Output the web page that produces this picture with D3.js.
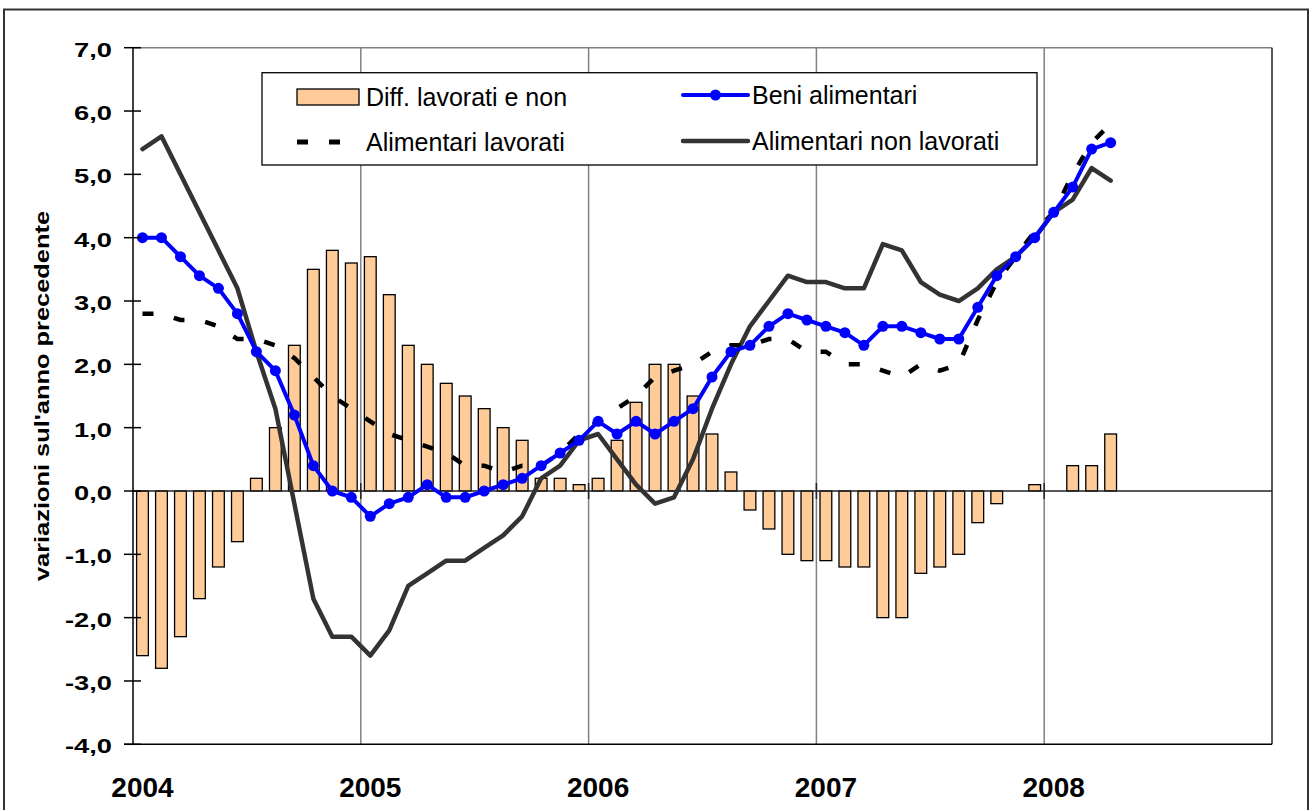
<!DOCTYPE html>
<html>
<head>
<meta charset="utf-8">
<script src="https://cdn.jsdelivr.net/npm/d3@7"></script>
<style>
  body { margin: 0; background: #fff; }
  svg { display: block; font-family: Arial, "Liberation Sans", sans-serif; }
</style>
</head>
<body>
<svg id="chart" width="1311" height="810"></svg>
<script>
const years = ["2004", "2005", "2006", "2007", "2008"];
const yTicks = [-4, -3, -2, -1, 0, 1, 2, 3, 4, 5, 6, 7];

// monthly values, Jan 2004 - Apr 2008
const diffLavNon = [
  -2.6, -2.8, -2.3, -1.7, -1.2, -0.8, 0.2, 1.0, 2.3, 3.5, 3.8, 3.6,
  3.7, 3.1, 2.3, 2.0, 1.7, 1.5, 1.3, 1.0, 0.8, 0.2, 0.2, 0.1,
  0.2, 0.8, 1.4, 2.0, 2.0, 1.5, 0.9, 0.3, -0.3, -0.6, -1.0, -1.1,
  -1.1, -1.2, -1.2, -2.0, -2.0, -1.3, -1.2, -1.0, -0.5, -0.2, 0.0, 0.1,
  0.0, 0.4, 0.4, 0.9
];
const beniAlimentari = [
  4.0, 4.0, 3.7, 3.4, 3.2, 2.8, 2.2, 1.9, 1.2, 0.4, 0.0, -0.1,
  -0.4, -0.2, -0.1, 0.1, -0.1, -0.1, 0.0, 0.1, 0.2, 0.4, 0.6, 0.8,
  1.1, 0.9, 1.1, 0.9, 1.1, 1.3, 1.8, 2.2, 2.3, 2.6, 2.8, 2.7,
  2.6, 2.5, 2.3, 2.6, 2.6, 2.5, 2.4, 2.4, 2.9, 3.4, 3.7, 4.0,
  4.4, 4.8, 5.4, 5.5
];
const alimLavorati = [
  2.8, 2.8, 2.7, 2.7, 2.6, 2.4, 2.4, 2.3, 2.1, 1.8, 1.5, 1.3,
  1.1, 0.9, 0.8, 0.7, 0.6, 0.4, 0.4, 0.3, 0.4, 0.4, 0.6, 0.9,
  1.1, 1.3, 1.5, 1.8, 1.9, 2.0, 2.2, 2.3, 2.3, 2.4, 2.4, 2.2,
  2.2, 2.0, 2.0, 1.9, 1.8, 2.0, 1.9, 2.0, 2.7, 3.3, 3.7, 4.1,
  4.4, 5.0, 5.5, 5.8
];
const alimNonLavorati = [
  5.4, 5.6, 5.0, 4.4, 3.8, 3.2, 2.2, 1.3, -0.2, -1.7, -2.3, -2.3,
  -2.6, -2.2, -1.5, -1.3, -1.1, -1.1, -0.9, -0.7, -0.4, 0.2, 0.4, 0.8,
  0.9, 0.5, 0.1, -0.2, -0.1, 0.5, 1.3, 2.0, 2.6, 3.0, 3.4, 3.3,
  3.3, 3.2, 3.2, 3.9, 3.8, 3.3, 3.1, 3.0, 3.2, 3.5, 3.7, 4.0,
  4.4, 4.6, 5.1, 4.9
];

const seriesNames = ["Diff. lavorati e non", "Beni alimentari", "Alimentari lavorati", "Alimentari non lavorati"];

const colors = {
  bar: "#ffcc99",
  blue: "#0000ff",
  dark: "#333333",
  grid: "#808080"
};

// 60 month slots on the axis (2004-2008)
const months = [];
years.forEach(yr => {
  for (let m = 1; m <= 12; m++) months.push(yr + "-" + m);
});

const plot = { left: 133, right: 1272, top: 47.7, bottom: 744.3 };

const svg = d3.select("#chart");

const x = d3.scaleBand()
  .domain(months)
  .range([plot.left, plot.right]);

const y = d3.scaleLinear()
  .domain([-4, 7])
  .range([plot.bottom, plot.top]);

const bw = x.bandwidth();
const cx = i => x(months[i]) + bw / 2;
const fmt = v => d3.format(".1f")(v).replace(".", ",").replace("\u2212", "-");

// outer frame
svg.append("rect")
  .attr("x", 4).attr("y", 9.5)
  .attr("width", 1304).attr("height", 810)
  .attr("fill", "none")
  .attr("stroke", "#333")
  .attr("stroke-width", 2);

// year gridlines
svg.selectAll(".grid")
  .data(years.slice(1))
  .enter()
  .append("line")
  .attr("x1", d => x(d + "-1"))
  .attr("x2", d => x(d + "-1"))
  .attr("y1", plot.top)
  .attr("y2", plot.bottom)
  .attr("stroke", colors.grid)
  .attr("stroke-width", 1.5);

// top border
svg.append("line")
  .attr("x1", plot.left).attr("x2", plot.right)
  .attr("y1", plot.top).attr("y2", plot.top)
  .attr("stroke", colors.grid)
  .attr("stroke-width", 1.5);

// right border
svg.append("line")
  .attr("x1", plot.right).attr("x2", plot.right)
  .attr("y1", plot.top).attr("y2", plot.bottom)
  .attr("stroke", "#222")
  .attr("stroke-width", 1.5);

// bars
const barW = bw * 0.62;
svg.selectAll(".bar")
  .data(diffLavNon)
  .enter()
  .append("rect")
  .attr("class", "bar")
  .attr("x", (d, i) => cx(i) - barW / 2)
  .attr("y", d => y(Math.max(0, d)))
  .attr("width", barW)
  .attr("height", d => Math.abs(y(d) - y(0)))
  .attr("fill", colors.bar)
  .attr("stroke", "#000")
  .attr("stroke-width", 1.3);

// zero line (category axis) with year ticks
svg.append("line")
  .attr("x1", plot.left).attr("x2", plot.right)
  .attr("y1", y(0)).attr("y2", y(0))
  .attr("stroke", "#222")
  .attr("stroke-width", 1.3);

svg.selectAll(".xtick")
  .data(years.slice(1))
  .enter()
  .append("line")
  .attr("x1", d => x(d + "-1"))
  .attr("x2", d => x(d + "-1"))
  .attr("y1", y(0) - 8)
  .attr("y2", y(0) + 8)
  .attr("stroke", "#222")
  .attr("stroke-width", 1.5);

// lines
const line = d3.line()
  .x((d, i) => cx(i))
  .y(d => y(d));

svg.append("path")
  .datum(alimNonLavorati)
  .attr("d", line)
  .attr("fill", "none")
  .attr("stroke", colors.dark)
  .attr("stroke-width", 4.5)
  .attr("stroke-linejoin", "round")
  .attr("stroke-linecap", "round");

svg.append("path")
  .datum(alimLavorati)
  .attr("d", line)
  .attr("fill", "none")
  .attr("stroke", "#000")
  .attr("stroke-width", 4.5)
  .attr("stroke-dasharray", "11,21");

svg.append("path")
  .datum(beniAlimentari)
  .attr("d", line)
  .attr("fill", "none")
  .attr("stroke", colors.blue)
  .attr("stroke-width", 4)
  .attr("stroke-linejoin", "round");

svg.selectAll(".dot")
  .data(beniAlimentari)
  .enter()
  .append("circle")
  .attr("cx", (d, i) => cx(i))
  .attr("cy", d => y(d))
  .attr("r", 5.5)
  .attr("fill", colors.blue);

// y axis
svg.append("line")
  .attr("x1", plot.left).attr("x2", plot.left)
  .attr("y1", plot.top).attr("y2", plot.bottom)
  .attr("stroke", "#000")
  .attr("stroke-width", 1.5);

svg.selectAll(".ytick")
  .data(yTicks)
  .enter()
  .append("line")
  .attr("x1", plot.left - 9)
  .attr("x2", plot.left + 8)
  .attr("y1", d => y(d))
  .attr("y2", d => y(d))
  .attr("stroke", "#000")
  .attr("stroke-width", 1.5);

svg.selectAll(".ylabel")
  .data(yTicks)
  .enter()
  .append("text")
  .attr("text-anchor", "end")
  .attr("transform", d => `translate(112,${y(d) + 9}) scale(1.4,1)`)
  .style("font-size", "19.5px")
  .style("font-weight", "700")
  .text(d => fmt(d));

// bottom line
svg.append("line")
  .attr("x1", plot.left - 9).attr("x2", plot.right)
  .attr("y1", plot.bottom).attr("y2", plot.bottom)
  .attr("stroke", "#000")
  .attr("stroke-width", 1.5);

// year labels
svg.selectAll(".xlabel")
  .data(years)
  .enter()
  .append("text")
  .attr("x", d => x(d + "-1") + bw / 2)
  .attr("y", 797)
  .attr("text-anchor", "middle")
  .style("font-size", "28px")
  .style("font-weight", "700")
  .text(d => d);

// y title (stretched along its length like the original)
svg.append("text")
  .attr("transform", `translate(49,${(plot.top + plot.bottom) / 2}) rotate(-90) scale(1.27,1)`)
  .attr("text-anchor", "middle")
  .style("font-size", "20px")
  .style("font-weight", "700")
  .text("variazioni sul'anno precedente");

// legend
const lg = svg.append("g");
lg.append("rect")
  .attr("x", 262).attr("y", 72.7)
  .attr("width", 775).attr("height", 92.3)
  .attr("fill", "#fff")
  .attr("stroke", "#000")
  .attr("stroke-width", 1.3);

lg.append("rect")
  .attr("x", 297).attr("y", 89)
  .attr("width", 62).attr("height", 16)
  .attr("fill", colors.bar)
  .attr("stroke", "#000")
  .attr("stroke-width", 1.3);

lg.append("line")
  .attr("x1", 297).attr("x2", 341)
  .attr("y1", 142).attr("y2", 142)
  .attr("stroke", "#000")
  .attr("stroke-width", 5)
  .attr("stroke-dasharray", "11,21");

lg.append("line")
  .attr("x1", 683).attr("x2", 748)
  .attr("y1", 95).attr("y2", 95)
  .attr("stroke", colors.blue)
  .attr("stroke-width", 4)
  .attr("stroke-linecap", "round");
lg.append("circle")
  .attr("cx", 715.5).attr("cy", 95)
  .attr("r", 5.5)
  .attr("fill", colors.blue);

lg.append("line")
  .attr("x1", 683).attr("x2", 748)
  .attr("y1", 141).attr("y2", 141)
  .attr("stroke", colors.dark)
  .attr("stroke-width", 4.5)
  .attr("stroke-linecap", "round");

const legendPos = [[366, 106], [752, 104], [366, 151], [752, 150]];
lg.selectAll(".ltext")
  .data(seriesNames)
  .enter()
  .append("text")
  .attr("x", (d, i) => legendPos[i][0])
  .attr("y", (d, i) => legendPos[i][1])
  .style("font-size", "25px")
  .text(d => d);
</script>
</body>
</html>
